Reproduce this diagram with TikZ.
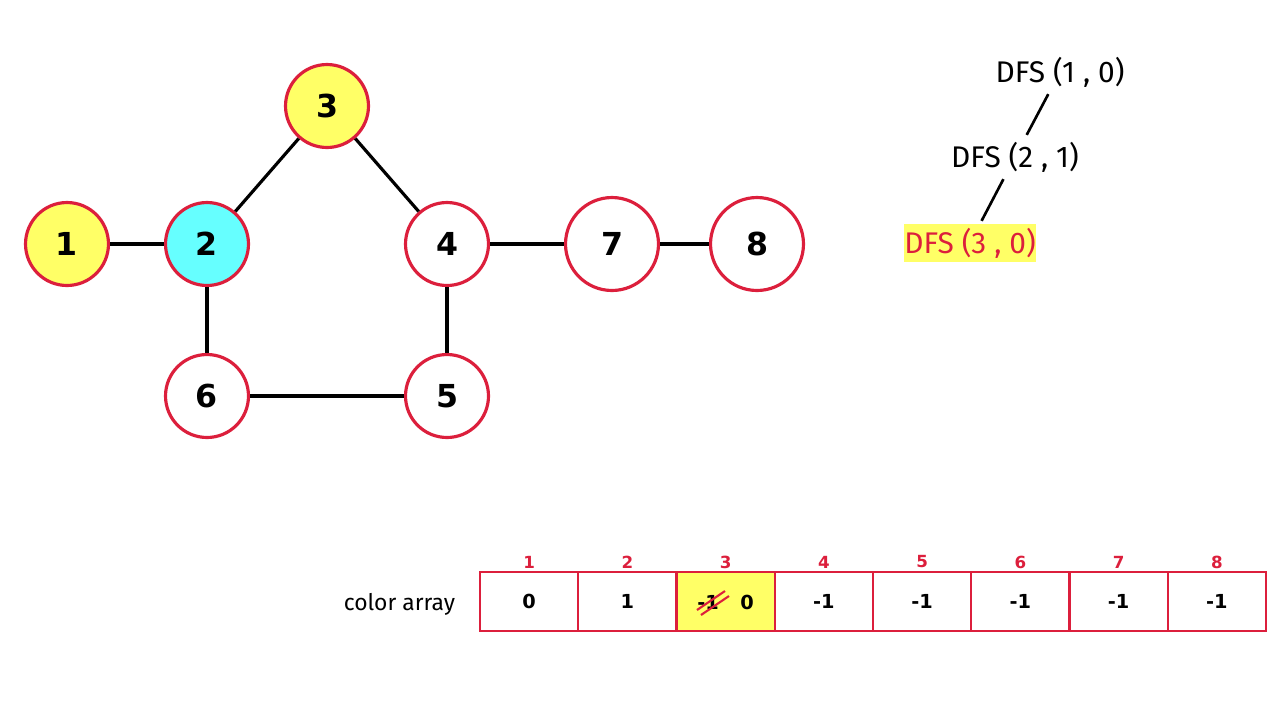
\documentclass[tikz,border=0pt]{standalone}
\usepackage{fontspec}
\setmainfont{DejaVu Sans}
\newfontfamily\callfont{Fira Sans}
\usepackage{xcolor}
\usepackage{tikz}
\usetikzlibrary{positioning}
\definecolor{vred}{HTML}{DC1F3C}
\definecolor{vyellow}{HTML}{FFFF66}
\definecolor{vcyan}{HTML}{66FFFF}
\tikzset{
  vnode/.style={circle,draw=vred,line width=1.8pt,fill=white,minimum size=1.66cm,inner sep=0pt,
    font=\fontsize{18}{21}\bfseries\selectfont},
  bignode/.style={vnode,minimum size=1.86cm},
  visited/.style={fill=vyellow},
  current/.style={fill=vcyan},
  gedge/.style={line width=1.8pt,black},
  callnode/.style={inner sep=2pt,outer sep=2pt,font=\callfont\fontsize{17}{20}\selectfont},
  activecall/.style={callnode,inner xsep=0pt,fill=vyellow,text=vred},
  calledge/.style={line width=1.5pt,black},
  cellbox/.style={rectangle,draw=vred,line width=1.3pt,minimum width=1.965cm,minimum height=1.18cm,
    inner sep=0pt,font=\fontsize{11}{13}\bfseries\selectfont},
  idxlabel/.style={inner sep=0pt,text=vred,font=\fontsize{9.5}{11}\bfseries\selectfont},
  strike/.style={line width=1.2pt,vred},
}

\begin{document}
\begin{tikzpicture}[x=0.02cm,y=-0.02cm]
  \useasboundingbox (0,0) rectangle (1285,701);
  % graph
  \node[vnode,visited] (n1) at (67,244) {1};
  \node[vnode,current] (n2) at (207,244) {2};
  \node[vnode,visited] (n3) at (327,106) {3};
  \node[vnode] (n4) at (447,244) {4};
  \node[vnode] (n5) at (447,396) {5};
  \node[vnode] (n6) at (207,396) {6};
  \node[bignode] (n7) at (612,244) {7};
  \node[bignode] (n8) at (757,244) {8};
  \draw[gedge] (n1) -- (n2);
  \draw[gedge] (n2) -- (n3);
  \draw[gedge] (n3) -- (n4);
  \draw[gedge] (n2) -- (n6);
  \draw[gedge] (n4) -- (n5);
  \draw[gedge] (n6) -- (n5);
  \draw[gedge] (n4) -- (n7);
  \draw[gedge] (n7) -- (n8);
  % call stack
  \node[callnode] (d1) at (1060,72) {DFS (1 , 0)};
  \node[callnode] (d2) at (1015,157) {DFS (2 , 1)};
  \node[activecall] (d3) at (970,243) {DFS (3 , 0)};
  \draw[calledge] (d1) -- (d2);
  \draw[calledge] (d2) -- (d3);
  % color array
  \node[callnode,anchor=east,font=\callfont\fontsize{13}{16}\selectfont] (lbl) at (462,604) {color array};
  \foreach \i/\v in {1/0,2/1,3/,4/-1,5/-1,6/-1,7/-1,8/-1} {
    \ifnum\i=3
      \node[cellbox,fill=vyellow] (c\i) at ({480+98.25*(\i-0.5)},601.5) {};
    \else
      \node[cellbox] (c\i) at ({480+98.25*(\i-0.5)},601.5) {\v};
    \fi
    \node[idxlabel] (k\i) at ({480+98.25*(\i-0.5)},562) {\i};
  }
  \node[font=\fontsize{11}{13}\bfseries\selectfont,inner sep=0pt] (old) at (708,602) {-1};
  \node[font=\fontsize{11}{13}\bfseries\selectfont,inner sep=0pt] (new) at (747,602) {0};
  \draw[strike] ([shift={(-11,8)}]old.center) -- ([shift={(17,-11)}]old.center);
  \draw[strike] ([shift={(-7,13)}]old.center) -- ([shift={(21,-6)}]old.center);
\end{tikzpicture}
\end{document}
